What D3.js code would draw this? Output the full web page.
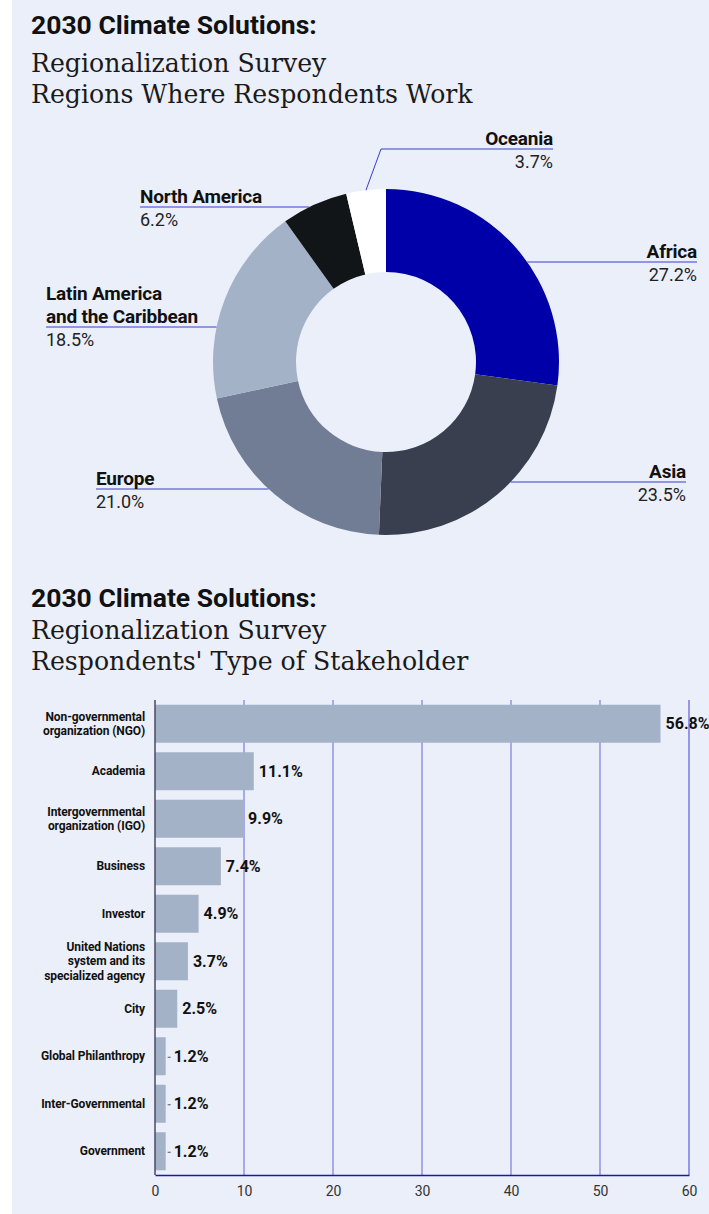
<!DOCTYPE html>
<html>
<head>
<meta charset="utf-8">
<script src="https://cdn.jsdelivr.net/npm/d3@7"></script>
<style>
  body { margin: 0; background: #fff; }
  svg { display: block; }
  .sans { font-family: Roboto, "Noto Sans", sans-serif; }
  .serif { font-family: "DejaVu Serif", serif; }
</style>
</head>
<body>
<svg id="chart" width="709" height="1214"></svg>
<script>
// region donut
const regions = ['Africa', 'Asia', 'Europe', 'Latin America and the Caribbean', 'North America', 'Oceania'];
const regionShares = [27.2, 23.5, 21.0, 18.5, 6.2, 3.7];
const regionColors = ['#0000a8', '#393f4f', '#717d95', '#a4b2c8', '#111518', '#ffffff'];

// stakeholder bars
const stakeholders = [
  'Non-governmental\norganization (NGO)',
  'Academia',
  'Intergovernmental\norganization (IGO)',
  'Business',
  'Investor',
  'United Nations\nsystem and its\nspecialized agency',
  'City',
  'Global Philanthropy',
  'Inter-Governmental',
  'Government'
];
const stakeholderShares = [56.8, 11.1, 9.9, 7.4, 4.9, 3.7, 2.5, 1.2, 1.2, 1.2];
const xTicks = [0, 10, 20, 30, 40, 50, 60];

const svg = d3.select('#chart');
const lineBlue = '#3b3bd0';

svg.append('rect')
  .attr('x', 12).attr('y', 0)
  .attr('width', 697).attr('height', 1214)
  .attr('fill', '#ebeffa');

function title(yBold, ySub1, ySub2, sub) {
  const g = svg.append('g');
  g.append('text').attr('class', 'sans')
    .attr('x', 31).attr('y', yBold)
    .attr('font-size', 26.5).attr('font-weight', 700).attr('fill', '#111')
    .text('2030 Climate Solutions:');
  g.append('text').attr('class', 'serif')
    .attr('x', 31).attr('y', ySub1)
    .attr('font-size', 25.2).attr('fill', '#1a1a1a')
    .text('Regionalization Survey');
  g.append('text').attr('class', 'serif')
    .attr('x', 31).attr('y', ySub2)
    .attr('font-size', 25.2).attr('fill', '#1a1a1a')
    .text(sub);
}

title(34, 72, 103, 'Regions Where Respondents Work');
title(607, 639, 670, "Respondents' Type of Stakeholder");

// ---- donut ----
const cx = 386, cy = 362, R = 173, r0 = 90;
const pie = d3.pie().sort(null).value(d => d)(regionShares);
const arc = d3.arc().innerRadius(r0).outerRadius(R);

const donut = svg.append('g').attr('transform', `translate(${cx},${cy})`);
donut.selectAll('path')
  .data(pie)
  .join('path')
  .attr('d', arc)
  .attr('fill', (d, i) => regionColors[i]);

// label placement: anchor x, underline y, side
const labelLayout = {
  'Africa': { x: 697, y: 262, side: 'right' },
  'Asia': { x: 686, y: 482, side: 'right' },
  'Europe': { x: 96, y: 489, side: 'left' },
  'Latin America and the Caribbean': { x: 46, y: 327, side: 'left', lines: ['Latin America', 'and the Caribbean'] },
  'North America': { x: 140, y: 207, side: 'left' },
  'Oceania': { x: 553, y: 149, side: 'right', elbow: 381 }
};

const labels = svg.append('g').attr('class', 'sans');
pie.forEach((d, i) => {
  const name = regions[i];
  const L = labelLayout[name];
  const path = d3.path();
  if (L.elbow) {
    const mid = (d.startAngle + d.endAngle) / 2;
    path.moveTo(L.x, L.y);
    path.lineTo(L.elbow, L.y);
    path.lineTo(cx + R * Math.sin(mid), cy - R * Math.cos(mid));
  } else {
    const dx = Math.sqrt(R * R - (L.y - cy) * (L.y - cy));
    const edge = L.side === 'right' ? cx + dx : cx - dx;
    path.moveTo(L.x, L.y);
    path.lineTo(edge, L.y);
  }
  labels.append('path').attr('d', path.toString())
    .attr('fill', 'none').attr('stroke', lineBlue).attr('stroke-width', 1);

  const anchor = L.side === 'right' ? 'end' : 'start';
  const lines = L.lines || [name];
  lines.forEach((t, k) => {
    labels.append('text')
      .attr('x', L.x).attr('y', L.y - 4 - (lines.length - 1 - k) * 23)
      .attr('text-anchor', anchor)
      .attr('font-size', 19).attr('font-weight', 700).attr('fill', '#111')
      .attr('letter-spacing', -0.2)
      .text(t);
  });
  labels.append('text')
    .attr('x', L.x).attr('y', L.y + 19)
    .attr('text-anchor', anchor)
    .attr('font-size', 18).attr('fill', '#222')
    .text(d3.format('.1f')(regionShares[i]) + '%');
});

// ---- bar chart ----
const x = d3.scaleLinear().domain([0, 60]).range([155, 689]);
const y = d3.scaleBand().domain(stakeholders).range([700, 1175])
  .paddingInner(0.2).paddingOuter(0.1);

const bars = svg.append('g');

bars.selectAll('line.grid')
  .data(xTicks.slice(1, -1))
  .join('line')
  .attr('class', 'grid')
  .attr('x1', d => x(d)).attr('x2', d => x(d))
  .attr('y1', 700).attr('y2', 1175)
  .attr('stroke', '#7a7ae0').attr('stroke-width', 1.2);

bars.selectAll('rect')
  .data(stakeholderShares)
  .join('rect')
  .attr('x', x(0))
  .attr('y', (d, i) => y(stakeholders[i]))
  .attr('width', d => x(d) - x(0))
  .attr('height', y.bandwidth())
  .attr('fill', '#a4b2c8');

bars.selectAll('text.val')
  .data(stakeholderShares)
  .join('text')
  .attr('class', 'val sans')
  .attr('x', d => x(d) + (d < 2 ? 8 : 5))
  .attr('y', (d, i) => y(stakeholders[i]) + y.bandwidth() / 2)
  .attr('dy', '0.35em')
  .attr('font-size', 16).attr('font-weight', 700).attr('fill', '#111')
  .text(d => d3.format('.1f')(d) + '%');

// little leader ticks on the smallest bars
bars.selectAll('line.lead')
  .data(stakeholderShares.map((v, i) => ({ v, i })).filter(d => d.v < 2))
  .join('line')
  .attr('class', 'lead')
  .attr('x1', d => x(d.v) + 2).attr('x2', d => x(d.v) + 5)
  .attr('y1', d => y(stakeholders[d.i]) + y.bandwidth() / 2 + 1)
  .attr('y2', d => y(stakeholders[d.i]) + y.bandwidth() / 2 + 1)
  .attr('stroke', '#555').attr('stroke-width', 1);

// right border line sits over the 56.8% label
bars.append('line')
  .attr('x1', x(60)).attr('x2', x(60))
  .attr('y1', 700).attr('y2', 1175)
  .attr('stroke', '#5a5ae0').attr('stroke-width', 1.2);

// category labels
const cat = bars.append('g').attr('class', 'sans');
stakeholders.forEach(s => {
  const parts = s.split('\n');
  const c = y(s) + y.bandwidth() / 2;
  parts.forEach((p, k) => {
    cat.append('text')
      .attr('x', 145)
      .attr('y', c + (k - (parts.length - 1) / 2) * 14.5)
      .attr('dy', '0.35em')
      .attr('text-anchor', 'end')
      .attr('font-size', 12).attr('font-weight', 700).attr('fill', '#111')
      .attr('letter-spacing', -0.1)
      .text(p);
  });
});

// left axis line
bars.append('line')
  .attr('x1', x(0)).attr('x2', x(0))
  .attr('y1', 700).attr('y2', 1175)
  .attr('stroke', '#4a4a66').attr('stroke-width', 1.5);

// bottom axis
const xAxis = d3.axisBottom(x).tickValues(xTicks).tickSize(0).tickPadding(11);
const ax = bars.append('g')
  .attr('transform', 'translate(0,1175)')
  .call(xAxis);
ax.select('.domain').attr('stroke', '#1a1aa0').attr('stroke-width', 1.5);
ax.selectAll('text')
  .attr('font-family', 'Roboto, sans-serif')
  .attr('font-size', 14).attr('fill', '#333');
</script>
</body>
</html>
